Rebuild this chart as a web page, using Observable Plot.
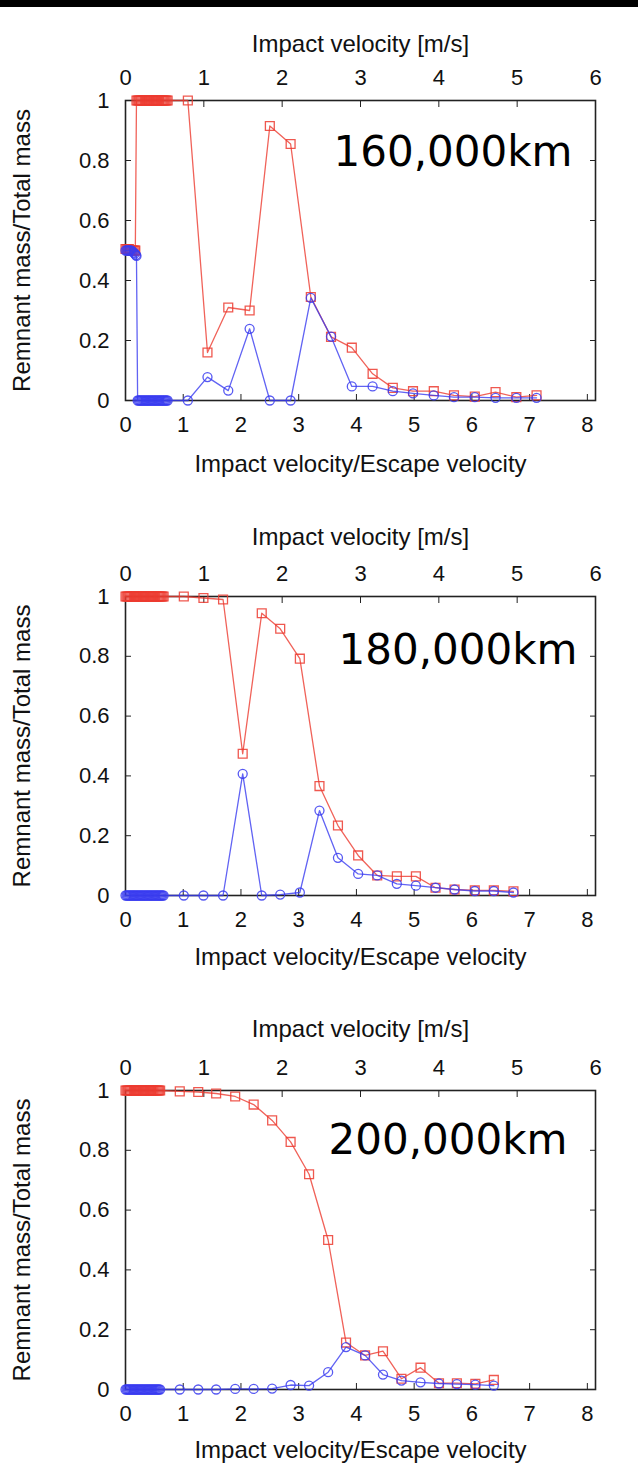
<!DOCTYPE html>
<html><head><meta charset="utf-8">
<script src="https://cdn.jsdelivr.net/npm/d3@7"></script>
<script src="https://cdn.jsdelivr.net/npm/@observablehq/plot@0.6"></script>
<style>
body{margin:0;background:#fff;width:638px;}
#bar{height:7px;background:#000;}
svg{display:block}
</style></head><body><div id="bar"></div><div id="charts"></div>
<script>
// ---- axis definitions ----
const escapeVelocity = 0.737;              // m/s per unit of lower axis
const topTicksMs = [0, 1, 2, 3, 4, 5, 6];
const bottomTicks = [0, 1, 2, 3, 4, 5, 6, 7, 8];
const yTicks = [0, 0.2, 0.4, 0.6, 0.8, 1];
const yTickLabels = ["0", "0.2", "0.4", "0.6", "0.8", "1"];
const topLabel = "Impact velocity [m/s]";
const bottomLabel = "Impact velocity/Escape velocity";
const yLabel = "Remnant mass/Total mass";
const distances = ["160,000km", "180,000km", "200,000km"];

// ---- panel 1 (160,000km) ----
const p1RedX = [0,0.02,0.04,0.06,0.08,0.10,0.12,0.14,0.16,0.17,
  0.19,0.21,0.23,0.25,0.27,0.29,0.31,0.33,0.35,0.37,0.39,0.41,0.43,0.45,0.47,0.49,0.51,0.53,0.55,0.57,0.59,0.61,0.63,0.65,0.67,0.69,0.71,0.73,
  1.08,1.42,1.78,2.15,2.50,2.86,3.21,3.56,3.92,4.28,4.63,4.98,5.34,5.69,6.05,6.41,6.77,7.12];
const p1RedY = [0.505,0.505,0.505,0.505,0.5,0.5,0.5,0.5,0.5,0.5,
  1,1,1,1,1,1,1,1,1,1,1,1,1,1,1,1,1,1,1,1,1,1,1,1,1,1,1,1,
  1.0,0.16,0.31,0.30,0.915,0.855,0.345,0.212,0.176,0.089,0.042,0.031,0.031,0.017,0.013,0.028,0.011,0.017];
const p1BlueX = [0,0.02,0.04,0.06,0.08,0.10,0.12,0.14,0.16,0.18,0.19,
  0.21,0.23,0.25,0.27,0.29,0.31,0.33,0.35,0.37,0.39,0.41,0.43,0.45,0.47,0.49,0.51,0.53,0.55,0.57,0.59,0.61,0.63,0.65,0.67,0.69,0.71,0.73,
  1.08,1.42,1.78,2.15,2.50,2.86,3.21,3.56,3.92,4.28,4.63,4.98,5.34,5.69,6.05,6.41,6.77,7.12];
const p1BlueY = [0.5,0.5,0.5,0.5,0.5,0.5,0.497,0.493,0.49,0.485,0.482,
  0,0,0,0,0,0,0,0,0,0,0,0,0,0,0,0,0,0,0,0,0,0,0,0,0,0,0,
  0,0.078,0.033,0.239,0,0,0.342,0.213,0.047,0.047,0.031,0.024,0.017,0.011,0.011,0.009,0.009,0.009];

// ---- panel 2 (180,000km) ----
const p2X = [0,0.02,0.04,0.06,0.08,0.10,0.12,0.14,0.16,0.18,0.20,0.22,0.24,0.26,0.28,0.30,0.32,0.34,0.36,0.38,0.40,0.42,0.44,0.46,0.48,0.50,0.52,0.54,0.56,0.58,0.60,0.62,0.64,0.66,
  1.01,1.35,1.69,2.03,2.36,2.68,3.02,3.36,3.68,4.03,4.36,4.70,5.03,5.37,5.70,6.05,6.38,6.72];
const p2RedY = [1,1,1,1,1,1,1,1,1,1,1,1,1,1,1,1,1,1,1,1,1,1,1,1,1,1,1,1,1,1,1,1,1,1,
  1.0,0.995,0.99,0.474,0.944,0.892,0.792,0.366,0.234,0.134,0.067,0.064,0.064,0.026,0.02,0.017,0.017,0.014];
const p2BlueY = [0,0,0,0,0,0,0,0,0,0,0,0,0,0,0,0,0,0,0,0,0,0,0,0,0,0,0,0,0,0,0,0,0,0,
  0,0,0,0.407,0,0.003,0.01,0.284,0.126,0.072,0.067,0.039,0.033,0.026,0.02,0.015,0.015,0.01];

// ---- panel 3 (200,000km) ----
const p3X = [0,0.02,0.04,0.06,0.08,0.10,0.12,0.14,0.16,0.18,0.20,0.22,0.24,0.26,0.28,0.30,0.32,0.34,0.36,0.38,0.40,0.42,0.44,0.46,0.48,0.50,0.52,0.54,0.56,0.58,0.60,
  0.94,1.26,1.57,1.90,2.22,2.54,2.86,3.18,3.51,3.82,4.15,4.46,4.78,5.11,5.43,5.74,6.06,6.38];
const p3RedY = [1,1,1,1,1,1,1,1,1,1,1,1,1,1,1,1,1,1,1,1,1,1,1,1,1,1,1,1,1,1,1,
  0.997,0.995,0.99,0.98,0.953,0.90,0.828,0.72,0.50,0.157,0.114,0.128,0.036,0.073,0.021,0.021,0.019,0.032];
const p3BlueY = [0,0,0,0,0,0,0,0,0,0,0,0,0,0,0,0,0,0,0,0,0,0,0,0,0,0,0,0,0,0,0,
  0,0,0,0.002,0.002,0.003,0.015,0.013,0.058,0.142,0.114,0.05,0.03,0.024,0.02,0.018,0.016,0.013];

const RED = "#ec3b30";
const BLUE = "#3a3cf0";

function rows(X, Y) { return X.map((x, k) => ({x, y: Y[k]})); }

function panel(idx, redX, redY, blueX, blueY, L) {
  const red = rows(redX, redY);
  const blue = rows(blueX, blueY);
  return Plot.plot({
    width: 638, height: L.height,
    marginLeft: 125, marginRight: 43, marginTop: 93, marginBottom: L.mb,
    style: {fontFamily: "'Liberation Sans', Arial, Helvetica, sans-serif", fontSize: "22px", background: "white", color: "#111"},
    x: {domain: [0, 6 / escapeVelocity]},
    y: {domain: [0, 1]},
    marks: [
      Plot.axisX({anchor: "bottom", ticks: bottomTicks, tickSize: -6, tickPadding: 22, tickFormat: d => String(d), label: null, stroke: "#222"}),
      Plot.axisX({anchor: "top", ticks: topTicksMs.map(v => v / escapeVelocity), tickSize: -6, tickPadding: 22,
        tickFormat: d => String(Math.round(d * escapeVelocity)), label: null, stroke: "#222"}),
      Plot.axisY({anchor: "left", ticks: yTicks, tickSize: -6, tickPadding: 22,
        tickFormat: d => yTickLabels[yTicks.indexOf(d)], label: null, stroke: "#222"}),
      Plot.axisY({anchor: "right", ticks: yTicks, tickSize: -6, tickFormat: () => "", label: null, stroke: "#222"}),
      Plot.frame({stroke: "#222", strokeWidth: 1.6}),
      Plot.line(red, {x: "x", y: "y", stroke: RED, strokeWidth: 1.3, strokeOpacity: 0.8}),
      Plot.dot(red, {x: "x", y: "y", symbol: "square", r: 5, stroke: RED, strokeWidth: 1.3, fill: "none", strokeOpacity: 0.85}),
      Plot.line(blue, {x: "x", y: "y", stroke: BLUE, strokeWidth: 1.3, strokeOpacity: 0.8}),
      Plot.dot(blue, {x: "x", y: "y", symbol: "circle", r: 4.5, stroke: BLUE, strokeWidth: 1.3, fill: "none", strokeOpacity: 0.85}),
      Plot.text([topLabel], {frameAnchor: "top", lineAnchor: "middle", dy: L.topTitle, fontSize: 24, fill: "#111"}),
      Plot.text([bottomLabel], {frameAnchor: "bottom", lineAnchor: "middle", dy: L.bottomTitle, fontSize: 24, fill: "#111"}),
      Plot.text([yLabel], {frameAnchor: "left", textAnchor: "middle", lineAnchor: "middle", rotate: -90, dx: -103, fontSize: 24, fill: "#111"}),
      Plot.text([distances[idx]], {frameAnchor: "top-left", textAnchor: "start", lineAnchor: "middle", dx: L.annDx, dy: L.annDy,
        fontSize: 42, fontFamily: "'DejaVu Sans', sans-serif", fill: "#000"})
    ]
  });
}

const host = document.getElementById("charts");
host.append(panel(0, p1RedX, p1RedY, p1BlueX, p1BlueY, {height: 496, mb: 103, topTitle: -56, bottomTitle: 64, annDx: 208, annDy: 52}));
host.append(panel(1, p2X, p2RedY, p2X, p2BlueY, {height: 494, mb: 102, topTitle: -59, bottomTitle: 62, annDx: 213, annDy: 54}));
host.append(panel(2, p3X, p3RedY, p3X, p3BlueY, {height: 477, mb: 85, topTitle: -61, bottomTitle: 61, annDx: 203, annDy: 50}));
</script>
</body></html>
